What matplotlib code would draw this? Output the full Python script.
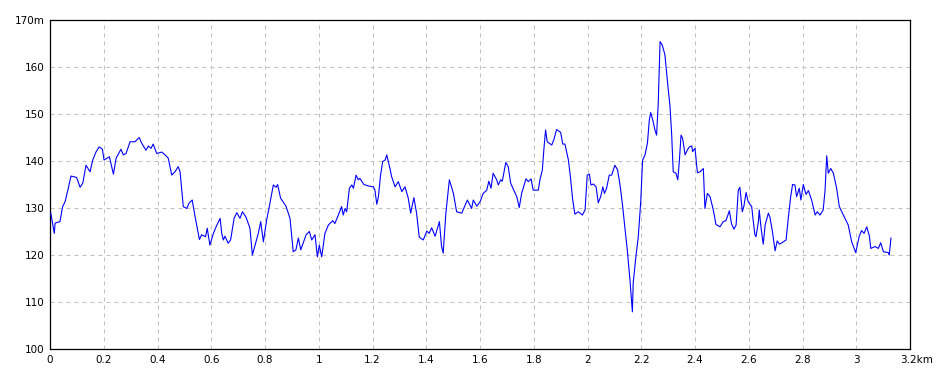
import numpy as np
import matplotlib
matplotlib.use("Agg")
import matplotlib.pyplot as plt
from matplotlib.transforms import ScaledTranslation

# distance (km) and elevation (m)
dist_km = [
    0.003, 0.016, 0.019, 0.037, 0.047, 0.056, 0.068, 0.078, 0.099, 0.112,
    0.122, 0.134, 0.149, 0.159, 0.171, 0.183, 0.195, 0.201, 0.221, 0.236,
    0.246, 0.264, 0.273, 0.283, 0.298, 0.316, 0.332, 0.341, 0.357, 0.366,
    0.376, 0.384, 0.397, 0.416, 0.428, 0.440, 0.453, 0.465, 0.477, 0.484,
    0.496, 0.509, 0.517, 0.529, 0.540, 0.556, 0.564, 0.579, 0.585, 0.595,
    0.608, 0.618, 0.633, 0.639, 0.645, 0.651, 0.663, 0.672, 0.685, 0.695,
    0.707, 0.716, 0.729, 0.744, 0.753, 0.763, 0.775, 0.784, 0.794, 0.806,
    0.816, 0.831, 0.841, 0.847, 0.858, 0.878, 0.893, 0.905, 0.915, 0.924,
    0.933, 0.953, 0.965, 0.974, 0.986, 0.995, 1.002, 1.011, 1.023, 1.036,
    1.052, 1.060, 1.073, 1.085, 1.091, 1.098, 1.104, 1.114, 1.123, 1.129,
    1.139, 1.147, 1.153, 1.168, 1.184, 1.203, 1.209, 1.216, 1.222, 1.230,
    1.238, 1.247, 1.253, 1.265, 1.271, 1.284, 1.296, 1.309, 1.321, 1.333,
    1.342, 1.354, 1.364, 1.374, 1.389, 1.402, 1.411, 1.420, 1.433, 1.449,
    1.457, 1.463, 1.473, 1.486, 1.501, 1.513, 1.532, 1.553, 1.569, 1.575,
    1.588, 1.600, 1.612, 1.625, 1.633, 1.641, 1.649, 1.662, 1.668, 1.677,
    1.683, 1.696, 1.705, 1.714, 1.724, 1.737, 1.746, 1.755, 1.771, 1.780,
    1.790, 1.798, 1.817, 1.823, 1.832, 1.838, 1.844, 1.850, 1.867, 1.875,
    1.885, 1.900, 1.908, 1.916, 1.929, 1.937, 1.945, 1.953, 1.966, 1.981,
    1.991, 1.999, 2.007, 2.013, 2.022, 2.032, 2.040, 2.049, 2.057, 2.063,
    2.071, 2.081, 2.090, 2.102, 2.112, 2.121, 2.131, 2.140, 2.148, 2.158,
    2.167, 2.170, 2.180, 2.189, 2.198, 2.205, 2.214, 2.223, 2.230, 2.235,
    2.243, 2.251, 2.257, 2.263, 2.270, 2.278, 2.288, 2.297, 2.307, 2.313,
    2.319, 2.329, 2.336, 2.342, 2.348, 2.354, 2.363, 2.371, 2.379, 2.388,
    2.391, 2.400, 2.409, 2.419, 2.431, 2.437, 2.446, 2.456, 2.468, 2.478,
    2.493, 2.505, 2.515, 2.528, 2.536, 2.545, 2.553, 2.561, 2.567, 2.576,
    2.582, 2.590, 2.598, 2.611, 2.617, 2.623, 2.627, 2.636, 2.639, 2.644,
    2.650, 2.654, 2.661, 2.673, 2.679, 2.688, 2.698, 2.706, 2.714, 2.729,
    2.739, 2.747, 2.756, 2.763, 2.772, 2.778, 2.788, 2.794, 2.803, 2.813,
    2.822, 2.834, 2.847, 2.855, 2.865, 2.877, 2.884, 2.890, 2.896, 2.905,
    2.915, 2.927, 2.937, 2.946, 2.958, 2.970, 2.983, 2.998, 3.011, 3.020,
    3.029, 3.039, 3.049, 3.054, 3.070, 3.082, 3.091, 3.101, 3.120, 3.123,
    3.129,
]
elev_m = [
    128.9, 124.6, 126.8, 127.1, 130.3, 131.3, 134.2, 136.8, 136.5, 134.4,
    135.3, 139.1, 137.7, 140.2, 141.9, 143.0, 142.5, 140.2, 140.9, 137.2,
    140.6, 142.5, 141.3, 141.6, 144.1, 144.1, 145.0, 143.8, 142.3, 143.2,
    142.7, 143.6, 141.6, 141.9, 141.3, 140.6, 137.0, 137.7, 138.8, 137.7,
    130.3, 129.9, 131.0, 131.7, 128.1, 123.3, 124.3, 123.9, 125.7, 122.1,
    124.6, 126.0, 127.8, 124.6, 123.2, 124.0, 122.5, 123.2, 127.8, 129.0,
    127.8, 129.2, 128.1, 125.7, 120.0, 122.1, 124.6, 127.1, 122.8, 127.4,
    130.3, 134.9, 134.4, 135.0, 132.1, 130.4, 127.8, 120.7, 121.1, 123.6,
    121.1, 124.3, 125.0, 123.2, 124.3, 119.6, 122.1, 119.6, 124.6, 126.4,
    127.3, 126.7, 128.5, 130.3, 128.5, 129.9, 129.2, 134.2, 134.9, 134.2,
    137.0, 136.0, 136.3, 135.0, 134.7, 134.5, 133.8, 130.8, 132.4, 137.0,
    139.9, 140.2, 141.3, 138.4, 136.7, 134.5, 135.6, 133.5, 134.5, 132.1,
    128.9, 132.2, 128.9, 123.8, 123.2, 125.1, 124.6, 125.8, 124.0, 127.1,
    121.8, 120.4, 128.9, 136.0, 133.1, 129.2, 128.9, 131.7, 129.9, 131.7,
    130.4, 131.3, 133.1, 133.8, 135.7, 134.2, 137.4, 136.0, 134.9, 136.0,
    135.7, 139.7, 138.8, 135.3, 134.0, 132.4, 130.1, 133.1, 136.2, 135.6,
    136.2, 133.8, 133.8, 136.0, 138.1, 142.7, 146.6, 144.1, 143.4, 144.6,
    146.7, 146.1, 143.6, 143.6, 140.2, 136.3, 131.7, 128.7, 129.2, 128.5,
    129.6, 137.0, 137.2, 134.9, 135.1, 134.5, 131.1, 132.4, 134.5, 133.1,
    134.2, 137.0, 137.0, 139.1, 138.1, 134.9, 130.3, 125.3, 121.1, 114.7,
    107.9, 114.0, 119.6, 123.9, 131.3, 140.2, 141.3, 143.8, 148.7, 150.3,
    148.7, 146.6, 145.5, 151.9, 165.4, 164.7, 162.6, 157.2, 151.6, 145.9,
    137.7, 137.4, 136.0, 140.2, 145.5, 144.8, 141.3, 142.3, 143.0, 143.2,
    142.0, 142.7, 137.5, 137.7, 138.4, 129.9, 133.1, 132.4, 129.6, 126.5,
    126.0, 127.1, 127.3, 129.4, 126.6, 125.5, 126.4, 133.8, 134.4, 129.2,
    130.4, 133.3, 131.3, 130.3, 127.1, 124.3, 123.9, 127.1, 129.6, 126.7,
    123.9, 122.3, 126.4, 128.9, 128.0, 125.0, 120.9, 123.0, 122.3, 122.8,
    123.2, 127.8, 132.4, 135.0, 134.9, 132.4, 134.2, 131.7, 135.0, 132.9,
    133.7, 131.7, 128.5, 129.2, 128.5, 129.6, 133.8, 141.1, 137.4, 138.4,
    137.4, 134.2, 130.3, 129.2, 127.8, 126.4, 122.8, 120.5, 124.0, 125.2,
    124.6, 126.0, 124.0, 121.4, 121.8, 121.4, 122.6, 120.7, 120.5, 120.0,
    123.6,
]

x_ticks = [0, 0.2, 0.4, 0.6, 0.8, 1, 1.2, 1.4, 1.6, 1.8, 2, 2.2, 2.4, 2.6, 2.8, 3, 3.2]
x_labels = ["0", "0.2", "0.4", "0.6", "0.8", "1", "1.2", "1.4", "1.6", "1.8",
            "2", "2.2", "2.4", "2.6", "2.8", "3", "3.2km"]
y_ticks = [100, 110, 120, 130, 140, 150, 160, 170]
y_labels = ["100", "110", "120", "130", "140", "150", "160", "170m"]

fig = plt.figure(figsize=(9.5, 3.8), dpi=100)
ax = fig.add_axes([50 / 950, 1 - 349 / 380, 860 / 950, 329 / 380])

ax.plot(dist_km, elev_m, color="#0000ff", linewidth=0.8, antialiased=True, zorder=3)

ax.set_xlim(0, 3.2)
ax.set_ylim(100, 170)
ax.set_xticks(x_ticks)
ax.set_xticklabels(x_labels)
ax.set_yticks(y_ticks)
ax.set_yticklabels(y_labels)
ax.tick_params(length=0, labelsize=7.5, pad=4, colors="black")

ax.grid(True, color="#c0c0c0", linestyle=(0, (4, 4)), linewidth=0.72)
ax.set_axisbelow(True)
for sp in ax.spines.values():
    sp.set_color("black")
    sp.set_linewidth(0.9)

# last x label sits a bit right of its tick, like "3.2" + "km"
last = ax.get_xticklabels()[-1]
last.set_transform(last.get_transform() + ScaledTranslation(7 / 100, 0, fig.dpi_scale_trans))

fig.savefig("out.png", dpi=100, facecolor="white")
